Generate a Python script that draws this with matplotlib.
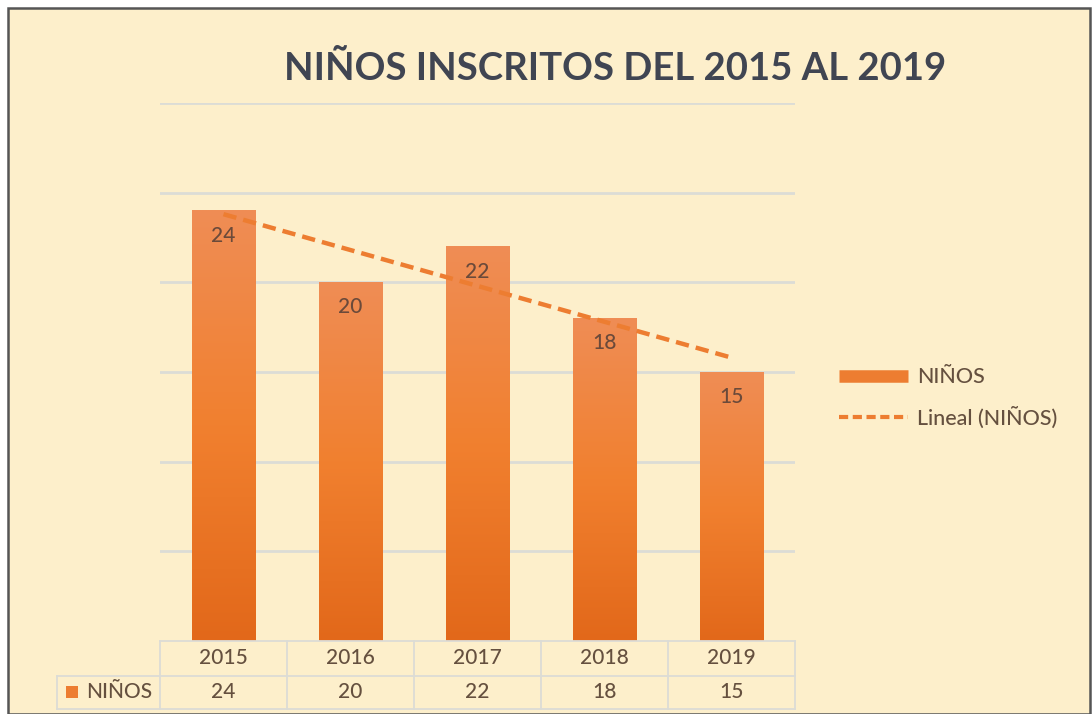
import matplotlib
matplotlib.use("Agg")
import matplotlib.pyplot as plt
import numpy as np
from matplotlib.lines import Line2D
from matplotlib.patches import Rectangle
from matplotlib.colors import LinearSegmentedColormap

years = ["2015", "2016", "2017", "2018", "2019"]
ninos = [24, 20, 22, 18, 15]
series_name = "NIÑOS"
trend_name = "Lineal (NIÑOS)"
title = "NIÑOS INSCRITOS DEL 2015 AL 2019"

W, H = 1092, 714
BG = "#FDEFCB"
TXT = "#65503F"
GRID = "#DCDCD6"
ORANGE = "#ED7D31"

plt.rcParams['font.family'] = ['Lato', 'DejaVu Sans']

fig = plt.figure(figsize=(W / 100, H / 100), dpi=100)
fig.patch.set_facecolor("white")

# chart area frame
fig.add_artist(Rectangle((8 / W, 0), (W - 10) / W, (H - 8) / H, transform=fig.transFigure,
                         facecolor=BG, edgecolor="#555555", linewidth=1.8, zorder=0))

L, R, T, B = 160, 795, 103, 641
ax = fig.add_axes([L / W, (H - B) / H, (R - L) / W, (B - T) / H])
ax.set_facecolor("none")
for s in ax.spines.values():
    s.set_visible(False)

x = np.arange(len(years))
ax.set_xlim(-0.5, len(years) - 0.5)
ax.set_ylim(0, 30)
ax.set_yticks([5, 10, 15, 20, 25, 30])
ax.set_xticks([])
ax.tick_params(left=False, labelleft=False)
ax.yaxis.grid(True, color=GRID, linewidth=2)
ax.set_axisbelow(True)

cmap = LinearSegmentedColormap.from_list("g", ["#E2681A", "#F1802F", "#EF8D55"])
grad = np.linspace(0, 1, 256).reshape(-1, 1)
bw = 0.5
bars = ax.bar(x, ninos, width=bw, color="none", zorder=2)
for xi, v in zip(x, ninos):
    ax.imshow(grad, extent=[xi - bw / 2, xi + bw / 2, 0, v], origin="lower",
              cmap=cmap, aspect="auto", zorder=2, interpolation="bilinear")
    ax.text(xi, v - 1.4, str(v), ha="center", va="center", fontsize=15,
            color="#6B4A3A", zorder=4, fontweight="medium")
ax.set_xlim(-0.5, len(years) - 0.5)
ax.set_ylim(0, 30)

# linear trend
coef = np.polyfit(x + 1, ninos, 1)
ty = np.polyval(coef, x + 1)
ax.plot(x, ty, linestyle=(0, (3, 1.6)), color=ORANGE, linewidth=3.2, zorder=3,
        solid_capstyle="butt")

# title
fig.text(615 / W, 1 - 68 / H, title, ha="center", va="center", fontsize=27.5,
         fontweight="bold", color="#404552")

# data table
trans = ax.get_xaxis_transform()
row1, row2, row3 = 0, -35 / (B - T), -68 / (B - T)
lkw = dict(color=GRID, linewidth=1.3, clip_on=False, transform=trans)
ax.plot([-0.5, 4.5], [row1, row1], **lkw)
ax.plot([-0.5, 4.5], [row2, row2], **lkw)
ax.plot([-0.5, 4.5], [row3, row3], **lkw)
left_x = -0.5 - (L - 57) / 127
ax.plot([left_x, -0.5], [row2, row2], **lkw)
ax.plot([left_x, -0.5], [row3, row3], **lkw)
ax.plot([left_x, left_x], [row2, row3], **lkw)
for b in np.arange(-0.5, 5.0, 1.0):
    ax.plot([b, b], [row1, row3], **lkw)
for xi, yr, v in zip(x, years, ninos):
    ax.text(xi, (row1 + row2) / 2, yr, ha="center", va="center", fontsize=15,
            color=TXT, transform=trans, clip_on=False, fontweight="medium")
    ax.text(xi, (row2 + row3) / 2, str(v), ha="center", va="center", fontsize=15,
            color=TXT, transform=trans, clip_on=False, fontweight="medium")
fig.add_artist(Rectangle((66 / W, 1 - 698 / H), 12 / W, 12 / H, transform=fig.transFigure,
                         facecolor=ORANGE, edgecolor="none"))
fig.text(86 / W, 1 - 692 / H, series_name, ha="left", va="center", fontsize=15,
         color=TXT, fontweight="medium")

# legend
handles = [Line2D([0], [0], color=ORANGE, linewidth=9, solid_capstyle="butt"),
           Line2D([0], [0], color=ORANGE, linewidth=3, linestyle=(0, (2.2, 1.1)))]
leg = fig.legend(handles, [series_name, trend_name], loc="center left",
                 bbox_to_anchor=(820 / W, 1 - 398 / H), frameon=False,
                 prop={"size": 15.5, "weight": "medium"},
                 labelcolor=TXT, handlelength=3.2, handletextpad=0.4, labelspacing=0.9)

fig.savefig("out.png", dpi=100, facecolor=fig.get_facecolor())
